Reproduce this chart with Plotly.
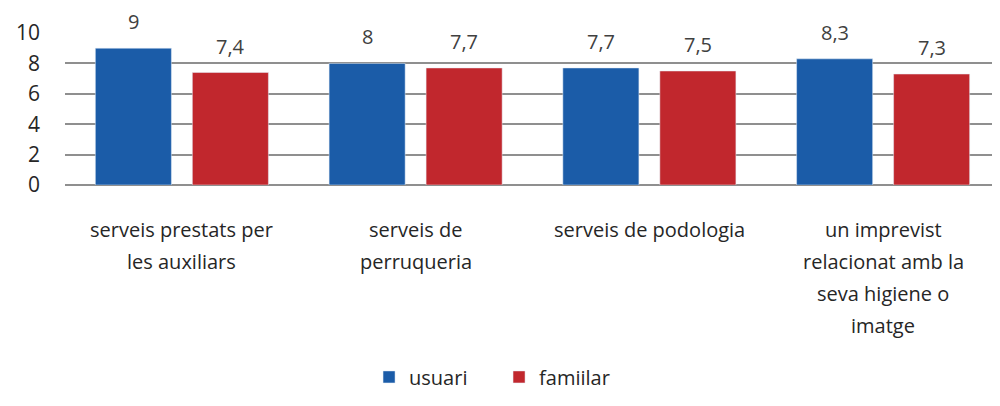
import plotly.graph_objects as go

categories = [
    "serveis prestats per\nles auxiliars",
    "serveis de\nperruqueria",
    "serveis de podologia",
    "un imprevist\nrelacionat amb la\nseva higiene o\nimatge",
]
usuari = [9, 8, 7.7, 8.3]
familiar = [7.4, 7.7, 7.5, 7.3]
y_ticks = [0, 2, 4, 6, 8, 10]

BLUE = "#1B5CA8"
RED = "#C1272D"
FONT = "Open Sans"
TXT = "#262626"

x_idx = list(range(len(categories)))

fig = go.Figure()
fig.add_trace(go.Bar(x=x_idx, y=usuari, name="usuari", marker_color=BLUE))
fig.add_trace(go.Bar(x=x_idx, y=familiar, name="famiilar", marker_color=RED))

def fmt(v):
    return f"{v:g}".replace(".", ",")

bargap = 0.17
half = (1 - bargap) / 4
annotations = []
for i in x_idx:
    for vals, off in ((usuari, -half), (familiar, half)):
        annotations.append(dict(
            x=i + off, y=vals[i], xref="x", yref="y", text=fmt(vals[i]),
            showarrow=False, yanchor="bottom", yshift=11,
            font=dict(family=FONT, size=20, color="#404040")))
    for j, line in enumerate(categories[i].split("\n")):
        annotations.append(dict(
            x=i, y=0, xref="x", yref="paper", text=line, showarrow=False,
            yanchor="middle", yshift=-44 - 32 * j,
            font=dict(family=FONT, size=20, color=TXT)))

# the page body adds an 8px offset, so the figure is sized to the visible area
fig.update_layout(
    width=992, height=398,
    margin=dict(l=57, r=0, t=25, b=221, autoexpand=False),
    paper_bgcolor="white", plot_bgcolor="white",
    barmode="group", bargap=bargap, bargroupgap=0.216,
    font=dict(family=FONT, size=20, color=TXT),
    xaxis=dict(range=[-0.5, 3.5], showticklabels=False, showgrid=False,
               zeroline=False, showline=False, ticks=""),
    yaxis=dict(range=[0, 10], tickvals=y_ticks, showgrid=True,
               gridcolor="#8f8f8f", gridwidth=1.5, zeroline=True,
               zerolinecolor="#8f8f8f", zerolinewidth=1.5,
               ticklabelstandoff=24, tickfont=dict(size=21, color=TXT)),
    legend=dict(orientation="h", xref="container", yref="container",
                x=0.495, xanchor="center", y=0.073, yanchor="middle",
                font=dict(family=FONT, size=20, color=TXT),
                itemwidth=30, entrywidth=85, traceorder="normal"),
    annotations=annotations,
    showlegend=True,
)

fig.write_html("out.html")
